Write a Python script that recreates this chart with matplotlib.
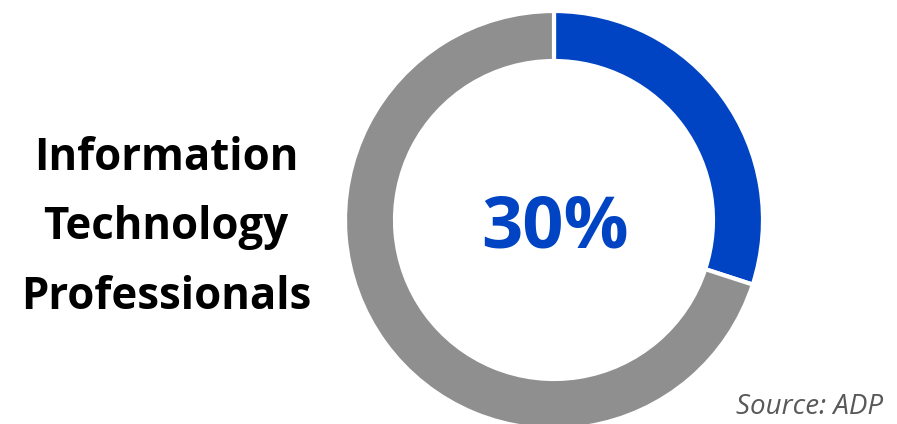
import matplotlib.pyplot as plt

# Data
labels = ['Information Technology Professionals', 'Other']
shares = [30, 70]
colors = ['#0044c4', '#8f8f8f']
center_label = '30%'
side_label = 'Information\nTechnology\nProfessionals'
source = 'Source: ADP'

W, H = 897, 424
fig = plt.figure(figsize=(W / 100, H / 100), dpi=100)
ax = fig.add_axes([0, 0, 1, 1])

cx, cy = 554, H - 220
R = 209
ring = 50

ax.pie(shares, colors=colors, startangle=90, counterclock=False,
       center=(cx, cy), radius=R, frame=True,
       wedgeprops=dict(width=ring, edgecolor='white', linewidth=3))

ax.set_xlim(0, W)
ax.set_ylim(0, H)
ax.set_aspect('equal')
ax.axis('off')

ax.text(cx + 1, cy - 8, center_label, ha='center', va='center', fontsize=52,
        fontweight='bold', color='#0044c4', family='Open Sans')

ax.text(166, H - 228, side_label, ha='center', va='center', fontsize=31.5,
        fontweight='bold', color='black', family='Open Sans',
        linespacing=1.72)

ax.text(883, H - 407, source, ha='right', va='center', fontsize=20,
        style='italic', color='#595959', family='Open Sans')

fig.savefig('out.png', dpi=100)
